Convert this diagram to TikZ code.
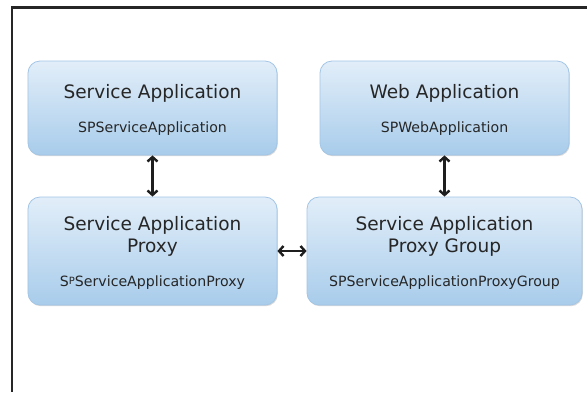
\documentclass[tikz,border=0pt]{standalone}
\usepackage{fontspec}
\setmainfont{DejaVu Sans}
\usetikzlibrary{arrows.meta,shadows}
\definecolor{boxtop}{HTML}{E2EEF9}
\definecolor{boxbot}{HTML}{A8CCEB}
\definecolor{boxline}{HTML}{A3C6E6}
\definecolor{txt}{HTML}{262626}
\definecolor{arrcol}{HTML}{1E1E1E}
\tikzset{
  appbox/.style={draw=boxline, line width=0.8bp, rounded corners=12bp,
    top color=boxtop, bottom color=boxbot, inner sep=0pt,
    drop shadow={shadow xshift=0.8bp, shadow yshift=-1.2bp, opacity=0.25, fill=black!60}},
  titletext/.style={text=txt, align=center, inner sep=0pt,
    font=\fontsize{18.6}{22}\selectfont},
  subtext/.style={text=txt, inner sep=0pt, font=\fontsize{14.2}{17}\selectfont},
  biarrow/.style={draw=arrcol, line width=2.6bp,
    {Straight Barb[length=4.5bp,width=10bp,line width=2.4bp]}-{Straight Barb[length=4.5bp,width=10bp,line width=2.4bp]}},
  frameline/.style={draw=black!85, line width=2.2bp}
}
\begin{document}
\begin{tikzpicture}[x=1bp,y=-1bp]
\useasboundingbox (0,0) rectangle (587,392);
\fill[white] (0,0) rectangle (587,392);
% frame
\coordinate (ftl) at (12,7.5);
\coordinate (ftr) at (587,7.5);
\coordinate (fbl) at (12,392);
\draw[frameline] (ftr) -- (ftl) -- (fbl);
% boxes
\node[appbox, minimum width=249bp, minimum height=94bp] (sa) at (152.5,108) {};
\node[appbox, minimum width=249bp, minimum height=94bp] (wa) at (444.5,108) {};
\node[appbox, minimum width=249bp, minimum height=108bp] (sap) at (152.5,251) {};
\node[appbox, minimum width=275bp, minimum height=108bp] (sapg) at (444.5,251) {};
% texts
\node[titletext] (sat) at (152.5,93) {Service Application};
\node[subtext] (sas) at (152.5,129) {SPServiceApplication};
\node[titletext] (wat) at (444.5,93) {Web Application};
\node[subtext] (was) at (444.5,129) {SPWebApplication};
\node[titletext] (sapt) at (152.5,236) {Service Application\\Proxy};
\node[subtext] (saps) at (152.5,283) {S\raisebox{2.2bp}{\fontsize{10}{10}\selectfont P}ServiceApplicationProxy};
\node[titletext] (sapgt) at (444.5,236) {Service Application\\Proxy Group};
\node[subtext] (sapgs) at (444.5,283) {SPServiceApplicationProxyGroup};
% connectors
\draw[biarrow] (sa.south) -- (sap.north);
\draw[biarrow] (wa.south) -- (sapg.north);
\draw[biarrow] (sap.east) -- (sapg.west);
\end{tikzpicture}
\end{document}
